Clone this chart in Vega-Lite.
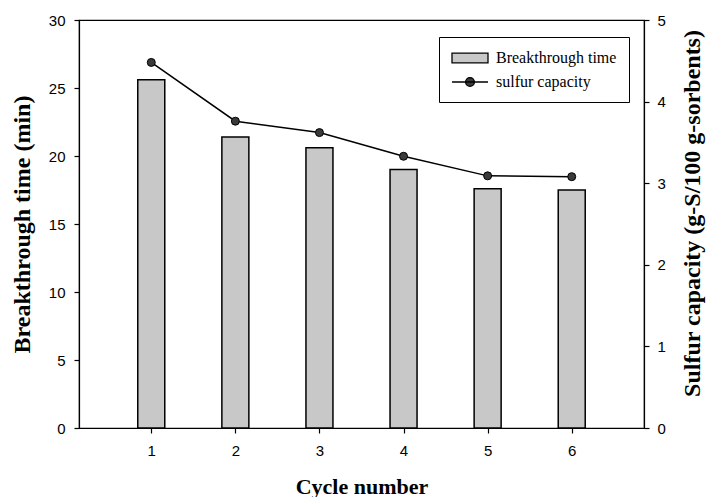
{
  "$schema": "https://vega.github.io/schema/vega-lite/v6.json",
  "width": 565,
  "height": 408,
  "autosize": {"type": "none"},
  "padding": {"left": 79, "top": 20, "right": 63, "bottom": 69},
  "background": "white",
  "config": {
    "view": {"stroke": "black", "strokeWidth": 1.2},
    "axis": {
      "domainColor": "black", "tickColor": "black", "labelColor": "black", "titleColor": "black",
      "labelFont": "Liberation Sans", "labelFontSize": 15,
      "titleFont": "Liberation Serif", "titleFontWeight": "bold",
      "tickSize": 5, "grid": false, "domainWidth": 1.2, "tickWidth": 1.2
    }
  },
  "data": {"values": [
    {"cycle": 1, "time": 25.6, "capacity": 4.48, "series": "Breakthrough time"},
    {"cycle": 2, "time": 21.4, "capacity": 3.76, "series": "Breakthrough time"},
    {"cycle": 3, "time": 20.6, "capacity": 3.62, "series": "Breakthrough time"},
    {"cycle": 4, "time": 19.0, "capacity": 3.33, "series": "Breakthrough time"},
    {"cycle": 5, "time": 17.6, "capacity": 3.09, "series": "Breakthrough time"},
    {"cycle": 6, "time": 17.5, "capacity": 3.08, "series": "Breakthrough time"}
  ]},
  "encoding": {
    "x": {
      "field": "cycle", "type": "quantitative",
      "scale": {"domain": [0.2, 6.8], "nice": false, "zero": false},
      "axis": {"values": [1, 2, 3, 4, 5, 6], "format": "d", "title": "Cycle number", "titleFontSize": 22, "labelPadding": 10, "titlePadding": 18}
    }
  },
  "layer": [
    {
      "mark": {"type": "bar", "width": 27, "stroke": "black", "strokeWidth": 1.5},
      "encoding": {
        "y": {
          "field": "time", "type": "quantitative",
          "scale": {"domain": [0, 30], "nice": false},
          "axis": {"values": [0, 5, 10, 15, 20, 25, 30], "title": "Breakthrough time (min)", "titleFontSize": 24, "titleBaseline": "alphabetic", "labelPadding": 9, "titlePadding": 19}
        },
        "color": {
          "field": "series", "type": "nominal",
          "scale": {"domain": ["Breakthrough time", "sulfur capacity"], "range": ["#c8c8c8", "#3a3a3a"]},
          "legend": {
            "title": null, "orient": "none", "legendX": 360, "legendY": 17,
            "strokeColor": "black", "fillColor": "white", "padding": 12,
            "labelFont": "Liberation Serif", "labelFontSize": 16, "labelColor": "black",
            "symbolSize": 256, "rowPadding": 7, "labelOffset": 17, "symbolOffset": 10,
            "symbolStrokeColor": "black", "symbolStrokeWidth": 1.3,
            "symbolType": {"expr": "datum.value === 'sulfur capacity' ? 'M-2.25,0L2.25,0M0.55,0A0.55,0.55,0,1,1,-0.55,0A0.55,0.55,0,1,1,0.55,0' : 'M-2.25,-0.6L2.25,-0.6L2.25,0.6L-2.25,0.6Z'"}
          }
        }
      }
    },
    {
      "encoding": {
        "y": {
          "field": "capacity", "type": "quantitative",
          "scale": {"domain": [0, 5], "nice": false},
          "axis": {"orient": "right", "values": [0, 1, 2, 3, 4, 5], "title": "Sulfur capacity (g-S/100 g-sorbents)", "titleFontSize": 24, "labelPadding": 8, "titlePadding": 34, "titleAngle": 270, "titleBaseline": "alphabetic", "titleY": 193}
        }
      },
      "layer": [
        {"mark": {"type": "line", "strokeWidth": 1.5, "color": "black"}},
        {"mark": {"type": "point", "shape": "circle", "filled": true, "fill": "#3a3a3a", "stroke": "black", "strokeWidth": 1, "size": 64, "opacity": 1}}
      ]
    }
  ],
  "resolve": {"scale": {"y": "independent"}}
}
